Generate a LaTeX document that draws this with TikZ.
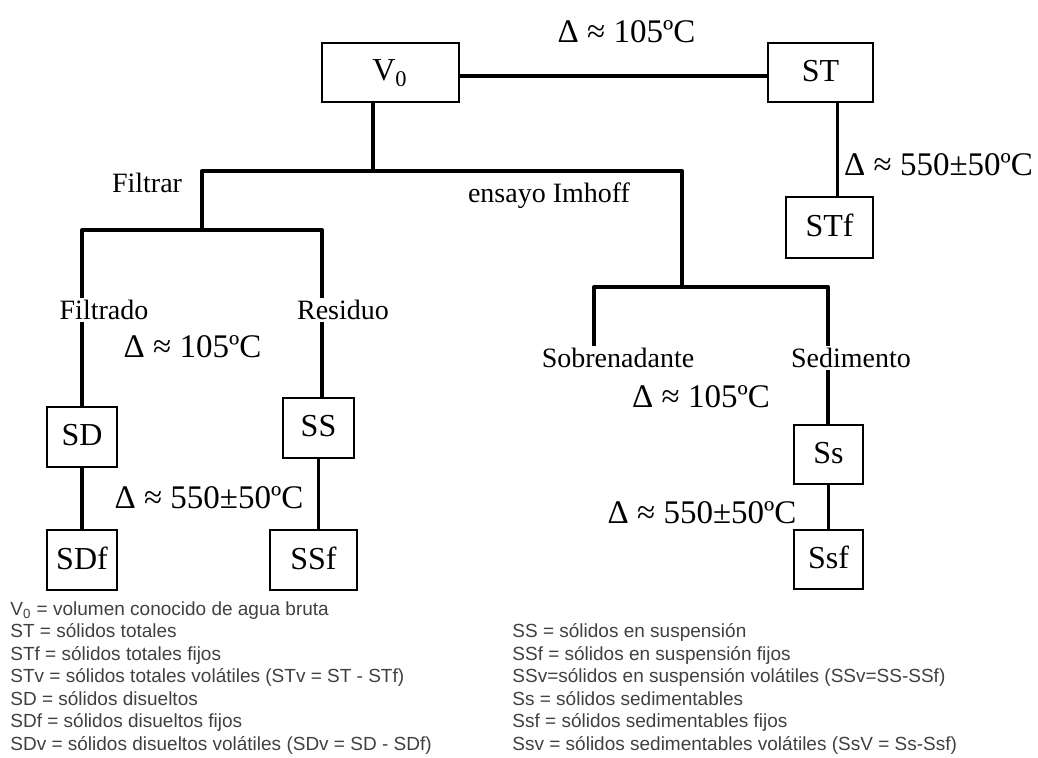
\documentclass[tikz,border=0pt]{standalone}
\usepackage{fontspec}
\setmainfont{Liberation Serif}
\newfontfamily\leyfont{Liberation Sans}

\tikzset{
  caja/.style={draw, line width=1pt, minimum width=#1, minimum height=30pt,
    inner sep=0pt, text depth=2pt, font=\fontsize{16}{18}\selectfont},
  conn/.style={line width=2pt, line join=round},
  temp/.style={inner sep=0pt, font=\fontsize{16.5}{19}\selectfont},
  rama/.style={inner sep=1pt, fill=white, font=\fontsize{14}{16}\selectfont},
  ley/.style={anchor=base west, inner sep=0pt, text=black!75,
    font=\leyfont\fontsize{9.5}{11}\selectfont}
}

\begin{document}
\begin{tikzpicture}[x=0.5pt,y=0.5pt]
\useasboundingbox (0,0) rectangle (1038,-758);

% Boxes
\node[caja=68.5pt, minimum height=29.5pt] (v0) at (390,-72.5) {V\textsubscript{0}};
\node[caja=52.5pt, minimum height=29.5pt] (st) at (820.5,-72.5) {ST};
\node[caja=43.5pt, minimum height=30.5pt] (stf) at (829.5,-227.5) {STf};
\node[caja=35pt] (sd) at (82,-437) {SD};
\node[caja=35pt] (sdf) at (82,-560) {SDf};
\node[caja=35.5pt] (ss) at (318.5,-428) {SS};
\node[caja=43.5pt] (ssf) at (313.5,-560) {SSf};
\node[caja=34.5pt, minimum height=29.5pt] (ss2) at (828.5,-454.5) {Ss};
\node[caja=34.5pt, minimum height=29.5pt] (ssf2) at (828.5,-559.5) {Ssf};

% Branch points
\coordinate (cv0) at (373,-171);
\coordinate (cfiltrar) at (202,-171);
\coordinate (cimhoff) at (682,-171);
\coordinate (cfil) at (202,-230);
\coordinate (cizq) at (82,-230);
\coordinate (cder) at (322,-230);
\coordinate (csob) at (594,-287);
\coordinate (csed) at (828,-287);

% Branch labels
\node[rama] (sobre) at (618,-358) {Sobrenadante};

% Lines
\draw[conn] ([yshift=-2pt]v0.east) -- ([yshift=-2pt]st.west);
\draw[conn] (v0.south -| cv0) -- (cv0);
\draw[conn] (cfil) -- (cfiltrar) -- (cimhoff) -- (cimhoff |- csob);
\draw[conn] (cizq |- sd.north) -- (cizq) -- (cder) -- (cder |- ss.north);
\draw[conn] (sobre.north -| csob) -- (csob) -- (csed) -- (csed |- ss2.north);
\draw[conn, line width=1.6pt] ([xshift=4pt]stf.north) -- ([xshift=4pt]stf.north |- st.south);
\draw[conn, line width=1.6pt] (sd.south) -- (sdf.north);
\draw[conn, line width=1.6pt] (ss.south) -- (ss.south |- ssf.north);
\draw[conn, line width=1.6pt] (ss2.south) -- (ssf2.north);

% Labels over the lines
\node[rama] (filtrar) at (147,-183) {Filtrar};
\node[rama] (imhoff) at (549,-196) {ensayo Imhoff};
\node[rama] (filtrado) at (104,-310) {Filtrado};
\node[rama] (residuo) at (343,-310) {Residuo};
\node[rama] (sedimento) at (851,-358) {Sedimento};

% Temperatures
\node[temp] (t1) at (626.5,-32) {Δ ≈ 105ºC};
\node[temp] (t2) at (938.5,-165) {Δ ≈ 550±50ºC};
\node[temp] (t3) at (192.5,-347) {Δ ≈ 105ºC};
\node[temp] (t4) at (209,-498) {Δ ≈ 550±50ºC};
\node[temp] (t5) at (701,-397) {Δ ≈ 105ºC};
\node[temp] (t6) at (702,-513) {Δ ≈ 550±50ºC};

% Legend, left
\node[ley] (l1) at (10,-615) {V\textsubscript{0} = volumen conocido de agua bruta};
\node[ley] (l2) at (10,-637.5) {ST = sólidos totales};
\node[ley] (l3) at (10,-660) {STf = sólidos totales fijos};
\node[ley] (l4) at (10,-682.5) {STv = sólidos totales volátiles (STv = ST - STf)};
\node[ley] (l5) at (10,-705) {SD = sólidos disueltos};
\node[ley] (l6) at (10,-727.5) {SDf = sólidos disueltos fijos};
\node[ley] (l7) at (10,-750) {SDv = sólidos disueltos volátiles (SDv = SD - SDf)};

% Legend, right
\node[ley] (r1) at (512,-637.5) {SS = sólidos en suspensión};
\node[ley] (r2) at (512,-660) {SSf = sólidos en suspensión fijos};
\node[ley] (r3) at (512,-682.5) {SSv=sólidos en suspensión volátiles (SSv=SS-SSf)};
\node[ley] (r4) at (512,-705) {Ss = sólidos sedimentables};
\node[ley] (r5) at (512,-727.5) {Ssf = sólidos sedimentables fijos};
\node[ley] (r6) at (512,-750) {Ssv = sólidos sedimentables volátiles (SsV = Ss-Ssf)};
\end{tikzpicture}
\end{document}
